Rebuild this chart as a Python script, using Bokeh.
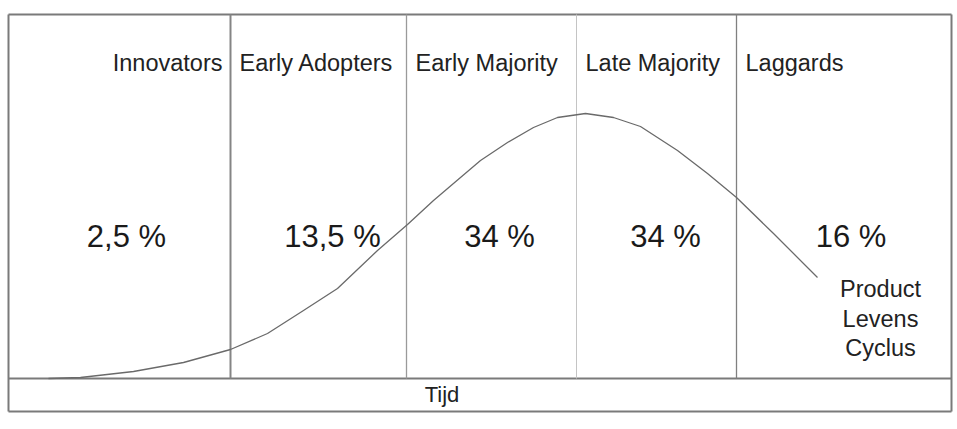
from bokeh.plotting import figure
from bokeh.models import Range1d
from bokeh.core.properties import value
from bokeh.embed import file_html
from bokeh.resources import INLINE

# ---- data (time units along x, adoption height above the time strip on y) ----
segment_names = ["Innovators", "Early Adopters", "Early Majority", "Late Majority", "Laggards"]
segment_shares = ["2,5 %", "13,5 %", "34 %", "34 %", "16 %"]
segment_edges = [0, 222, 398, 568, 728, 943]

curve_t = [40, 72, 125, 175, 222, 259, 295, 329, 349, 369, 399, 425, 452, 472, 499,
           525, 549, 577, 605, 632, 669, 699, 728, 765, 809]
curve_h = [0, 1, 7, 16, 29, 45, 68, 90, 109, 128, 154, 178, 201, 218, 236,
           251, 261, 265, 261, 252, 228, 205, 181, 145, 101]

axis_label = "Tijd"
curve_label = ["Product", "Levens", "Cyclus"]

FONT = value("Liberation Sans")
frame_top = 364
frame_bottom = -33

p = figure(width=957, height=429, output_backend="svg", toolbar_location=None,
           x_range=Range1d(-8, 949), y_range=Range1d(-51, 378),
           min_border=0, outline_line_color=None)
p.axis.visible = False
p.grid.visible = False
p.background_fill_color = "white"
p.border_fill_color = "white"

t0, t1 = segment_edges[0], segment_edges[-1]

# outer frame and time strip
p.segment(x0=[t0, t1, t0, t0, t0], y0=[frame_bottom, frame_bottom, frame_top, frame_bottom, 0],
          x1=[t0, t1, t1, t1, t1], y1=[frame_top, frame_top, frame_top, frame_bottom, 0],
          line_color="#7a7a7a", line_width=2)

# segment dividers
div_colors = ["#858585", "#9a9a9a", "#c4c4c4", "#808080"]
div_widths = [2, 1.3, 1, 1.3]
inner = segment_edges[1:-1]
p.segment(x0=inner, y0=[0] * len(inner), x1=inner, y1=[frame_top] * len(inner),
          line_color=div_colors, line_width=div_widths)

# bell curve
p.line(curve_t, curve_h, line_color="#6a6a6a", line_width=1.3, line_join="round")

# segment names
p.text(x=[segment_edges[1]], y=[316], text=[segment_names[0]], text_align="right",
       text_baseline="middle", x_offset=-8, text_font=FONT, text_font_size="23.5px",
       text_color="#222222")
p.text(x=segment_edges[1:-1], y=[316] * 4, text=segment_names[1:], text_align="left",
       text_baseline="middle", x_offset=9, text_font=FONT, text_font_size="23.5px",
       text_color="#222222")

# shares
centers = [(a + b) / 2 for a, b in zip(segment_edges[:-1], segment_edges[1:])]
p.text(x=centers, y=[142] * 5, text=segment_shares, text_align="center",
       text_baseline="middle", x_offset=[7, 14, 8, 9, 7], text_font=FONT,
       text_font_size="31px", text_color="#1a1a1a")

# curve label
p.text(x=[872] * 3, y=[90, 60, 31], text=curve_label, text_align="center",
       text_baseline="middle", text_font=FONT, text_font_size="23.5px", text_color="#222222")

# time label
p.text(x=[(t0 + t1) / 2], y=[-16], text=[axis_label], text_align="center",
       text_baseline="middle", x_offset=-38, text_font=FONT, text_font_size="22px",
       text_color="#222222")

open("out.html", "w").write(file_html(p, INLINE))
